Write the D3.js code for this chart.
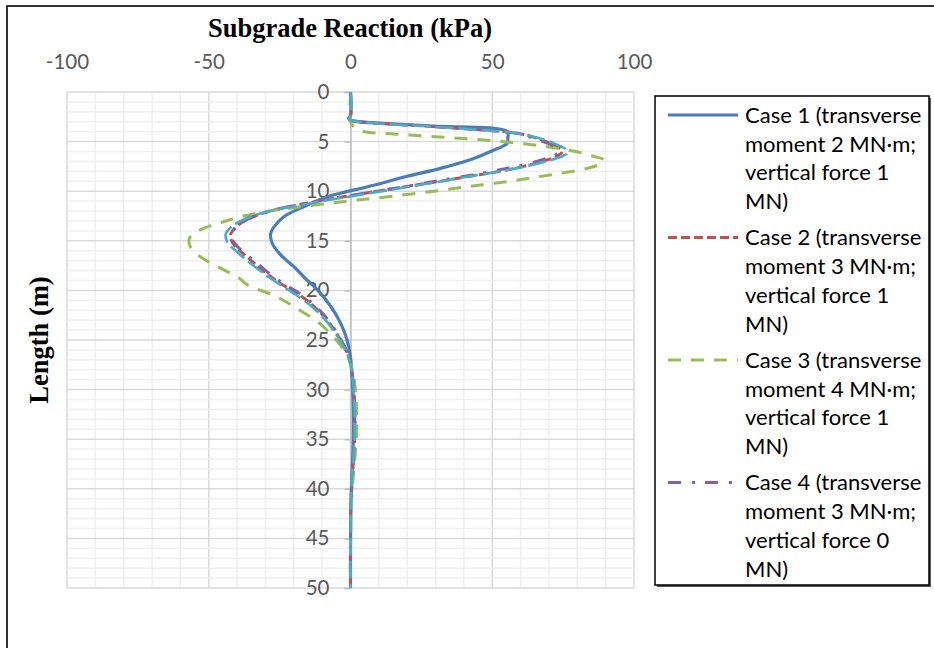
<!DOCTYPE html>
<html>
<head>
<meta charset="utf-8">
<script src="https://cdn.jsdelivr.net/npm/d3@7"></script>
<style>
  html, body { margin: 0; padding: 0; background: #ffffff; }
  svg { display: block; }
</style>
</head>
<body>
<svg id="chart" width="934" height="648"></svg>
<script>
// Subgrade reaction (kPa) along pile length (m): [depth, reaction]
const case1Points = [
  [0, 0], [2.4, 0], [2.7, -0.6], [2.85, 0], [3.4, 27], [4.0, 55.3], [4.6, 55.5], [5.15, 55.3],
  [5.5, 53.5], [5.85, 50.6], [6.7, 43.5], [7.7, 31.7], [8.5, 20], [9.4, 8.2], [10.2, -3.5],
  [10.55, -8.2], [11.56, -16.5], [12.57, -23.5], [13.6, -27], [14.3, -28.2], [15.25, -27.6],
  [16.4, -24.7], [17.6, -20], [18.8, -15.9], [20.0, -11.5], [21.6, -7], [23.3, -3.5], [25, -1.2],
  [26.7, 0], [29, 0.6], [32, 1.0], [35, 1.0], [38, 0.6], [41, 0.2], [44, 0.05], [50, 0]
];
const case2Points = [
  [0, 0], [2.4, 0], [2.7, -0.6], [2.85, 0], [3.5, 30], [4.16, 58.8], [4.5, 64], [5.17, 70.5],
  [5.6, 73.5], [6.0, 74.7], [6.5, 72.5], [7.0, 67.5], [7.5, 61], [8.0, 52.5], [8.5, 42],
  [9.0, 31.5], [9.5, 20.5], [10.0, 9.5], [10.4, 1], [10.8, -7.5], [11.3, -17], [11.9, -27],
  [12.6, -34.5], [13.4, -39.5], [14.3, -42.2], [15.1, -41.8], [16.0, -39], [17.0, -35],
  [18.1, -30.5], [19.3, -24.7], [20.3, -18.8], [21.6, -12.9], [23, -8.2], [25, -3.5],
  [26.7, -0.6], [28, 0.4], [30, 1.2], [33, 1.6], [36, 1.3], [39, 0.6], [42, 0.1], [50, 0]
];
const case3Points = [
  [0, 0], [3.0, 0], [3.3, 0.5], [3.7, 2], [4.0, 5], [4.25, 16], [4.5, 30], [4.8, 45],
  [5.1, 57], [5.5, 69], [5.85, 76.4], [6.2, 82.5], [6.5, 86], [6.85, 89.4], [7.2, 88.5],
  [7.7, 83.5], [8.2, 74], [8.6, 65], [9.03, 55.3], [9.5, 42.5], [10.0, 29.5], [10.5, 15],
  [10.9, 2], [11.3, -10], [11.7, -21], [12.1, -31], [12.7, -40.5], [13.2, -46], [13.9, -53],
  [14.75, -56.8], [15.6, -56.5], [16.6, -53], [17.4, -48.2], [18.1, -43.5], [18.6, -40],
  [19.5, -36], [20.5, -27], [21.8, -19], [23.3, -11], [24.7, -6], [26, -2.4], [27.35, 0],
  [29, 1.3], [31, 2.0], [34, 2.2], [37, 1.5], [40, 0.6], [43, 0.1], [50, 0]
];
const case4Points = [
  [0, 0], [2.4, 0], [2.7, -0.6], [2.85, 0], [3.5, 30], [4.16, 58.5], [4.8, 66], [5.5, 72],
  [6.0, 73.5], [6.4, 72], [6.7, 69], [7.2, 63], [7.7, 55], [8.2, 46], [8.7, 36], [9.2, 26],
  [9.7, 16], [10.1, 7], [10.5, -1.5], [10.8, -8], [11.3, -17], [11.9, -27], [12.6, -34.5],
  [13.4, -39.5], [14.3, -42], [15.1, -41.3], [16.0, -38.3], [17.0, -34], [18.1, -29.5],
  [19.3, -23.8], [20.3, -18], [21.6, -12.3], [23, -7.8], [25, -3.3], [26.7, -0.5], [28, 0.4],
  [30, 1.2], [33, 1.5], [36, 1.2], [39, 0.6], [42, 0.1], [50, 0]
];
const case5Points = [
  [0, 0], [2.4, 0], [2.7, -0.6], [2.85, 0], [3.5, 30], [4.1, 57], [4.6, 66], [5.2, 72],
  [5.8, 76], [6.2, 76.3], [6.6, 73.5], [7.1, 67.5], [7.6, 60], [8.1, 50.5], [8.6, 40],
  [9.1, 30], [9.6, 19.5], [10.1, 9], [10.5, 0.5], [10.9, -8], [11.4, -17.5], [12.0, -28.5],
  [12.7, -36.5], [13.5, -41.5], [14.3, -44], [15.1, -43.5], [16.0, -40.5], [17.0, -36.5],
  [18.1, -31.5], [19.2, -26], [20.3, -20], [21.6, -13.8], [23, -8.8], [25, -3.8], [26.7, -0.8],
  [28, 0.3], [30, 1.1], [33, 1.5], [36, 1.2], [39, 0.5], [42, 0.1], [50, 0]
];

const reactionTicks = [-100, -50, 0, 50, 100];
const depthTicks = [0, 5, 10, 15, 20, 25, 30, 35, 40, 45, 50];
const legendLabels = [
  ["Case 1 (transverse", "moment 2 MN·m;", "vertical force 1", "MN)"],
  ["Case 2 (transverse", "moment 3 MN·m;", "vertical force 1", "MN)"],
  ["Case 3 (transverse", "moment 4 MN·m;", "vertical force 1", "MN)"],
  ["Case 4 (transverse", "moment 3 MN·m;", "vertical force 0", "MN)"]
];

const series = [
  { points: case1Points, color: "#4a7ebb", width: 3.2, dash: null, legend: 0 },
  { points: case2Points, color: "#c0504d", width: 3, dash: "9,4", legend: 1 },
  { points: case3Points, color: "#9bbb59", width: 3, dash: "13,10", legend: 2 },
  { points: case4Points, color: "#8064a2", width: 3, dash: "13,11,3,10", legend: 3 },
  { points: case5Points, color: "#4bacc6", width: 2.6, dash: "18,5", legend: null }
];

const sans = "Lato, 'Open Sans', sans-serif";
const serif = "'Liberation Serif', 'Times New Roman', serif";

const svg = d3.select("#chart");
const x = d3.scaleLinear().domain([-100, 100]).range([67, 634]);
const y = d3.scaleLinear().domain([0, 50]).range([92, 588]);

// outer frame
svg.append("rect").attr("x", 7).attr("y", 6).attr("width", 960).attr("height", 700)
  .attr("fill", "none").attr("stroke", "#000").attr("stroke-width", 1.6);

// gridlines
const grid = svg.append("g");
d3.range(-100, 101, 10).forEach(v => {
  grid.append("line").attr("x1", x(v)).attr("x2", x(v)).attr("y1", y(0)).attr("y2", y(50))
    .attr("stroke", v % 50 === 0 ? "#d9d9d9" : "#efefef").attr("stroke-width", 1.5);
});
d3.range(0, 51, 1).forEach(d => {
  grid.append("line").attr("x1", x(-100)).attr("x2", x(100)).attr("y1", y(d)).attr("y2", y(d))
    .attr("stroke", d % 5 === 0 ? "#d9d9d9" : "#efefef").attr("stroke-width", 1.5);
});

// top axis labels
const topAxis = svg.append("g").attr("transform", "translate(0,69)")
  .call(d3.axisTop(x).tickValues(reactionTicks).tickSize(0).tickPadding(0).tickFormat(d => String(d)));
topAxis.select(".domain").remove();
topAxis.selectAll("text").attr("fill", "#595959").attr("font-family", sans).attr("font-size", 20.5);

// depth axis at zero reaction
const leftAxis = svg.append("g").attr("transform", `translate(${x(0)},0)`)
  .call(d3.axisLeft(y).tickValues(depthTicks).tickSize(6).tickPadding(15).tickFormat(d => String(d)));
leftAxis.select(".domain").attr("stroke", "#bfbfbf").attr("stroke-width", 1.5);
leftAxis.selectAll(".tick line").attr("stroke", "#bfbfbf").attr("stroke-width", 1.5);
leftAxis.selectAll("text").attr("fill", "#595959").attr("font-family", sans).attr("font-size", 20.5);

// titles
svg.append("text").attr("x", 350).attr("y", 37).attr("text-anchor", "middle")
  .attr("font-family", serif).attr("font-weight", "bold")
  .attr("font-size", 26.5).attr("fill", "#000").text("Subgrade Reaction (kPa)");
svg.append("text").attr("transform", "translate(48,340) rotate(-90)").attr("text-anchor", "middle")
  .attr("font-family", serif).attr("font-weight", "bold")
  .attr("font-size", 26.5).attr("fill", "#000").text("Length (m)");

// series lines
const line = d3.line().x(p => x(p[1])).y(p => y(p[0])).curve(d3.curveCatmullRom.alpha(0.5));
const plot = svg.append("g");
series.forEach(s => {
  plot.append("path").attr("d", line(s.points)).attr("fill", "none")
    .attr("stroke", s.color).attr("stroke-width", s.width)
    .attr("stroke-dasharray", s.dash).attr("stroke-linejoin", "round");
});

// legend
const lg = svg.append("g");
lg.append("rect").attr("x", 657).attr("y", 98).attr("width", 274).attr("height", 489).attr("fill", "#595959");
lg.append("rect").attr("x", 655).attr("y", 96).attr("width", 274).attr("height", 489)
  .attr("fill", "#fff").attr("stroke", "#000").attr("stroke-width", 1.5);
series.filter(s => s.legend !== null).forEach((s, i) => {
  const top = 115 + i * 122.5;
  lg.append("line").attr("x1", 668).attr("x2", 738).attr("y1", top).attr("y2", top)
    .attr("stroke", s.color).attr("stroke-width", s.width).attr("stroke-dasharray", s.dash);
  legendLabels[s.legend].forEach((t, j) => {
    lg.append("text").attr("x", 745).attr("y", top + j * 28.8).attr("dy", "0.35em")
      .attr("font-family", sans).attr("font-size", 22).attr("fill", "#000").text(t);
  });
});
</script>
</body>
</html>
